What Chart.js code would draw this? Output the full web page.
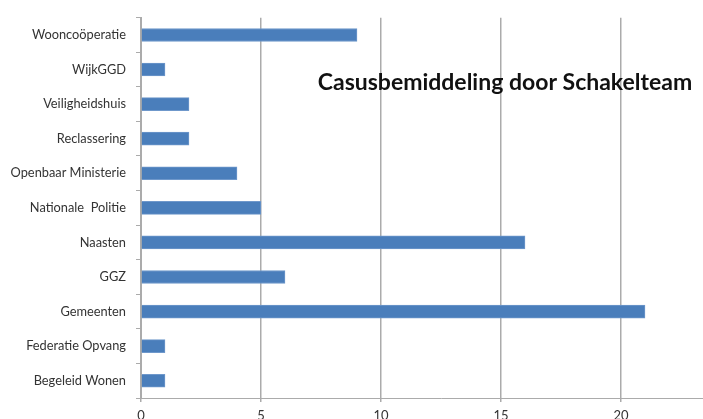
<!DOCTYPE html>
<html>
<head>
<meta charset="utf-8">
<script src="https://cdn.jsdelivr.net/npm/chart.js@4"></script>
<style>
  html, body { margin: 0; padding: 0; background: #fff; overflow: hidden; width: 703px; height: 419px; }
  #wrap { width: 760px; height: 430px; }
</style>
</head>
<body>
<div id="wrap"><canvas id="chart" width="760" height="430"></canvas></div>
<script>
const categories = ['Wooncoöperatie', 'WijkGGD', 'Veiligheidshuis', 'Reclassering', 'Openbaar Ministerie',
    'Nationale  Politie', 'Naasten', 'GGZ', 'Gemeenten', 'Federatie Opvang', 'Begeleid Wonen'];
const casussen = [9, 1, 2, 2, 4, 5, 16, 6, 21, 1, 1];
const xTicks = [0, 5, 10, 15, 20, 25];
const chartTitle = 'Casusbemiddeling door Schakelteam';

// title sits inside the plot area, so draw it by hand
const titlePlugin = {
    id: 'innerTitle',
    afterDraw(chart) {
        const c = chart.ctx;
        c.save();
        c.font = 'bold 23px Lato';
        c.fillStyle = '#111';
        c.textAlign = 'center';
        c.textBaseline = 'middle';
        c.fillText(chartTitle, 505, 83);
        c.restore();
    }
};

const ctx = document.querySelector('#chart').getContext('2d');
const chart = new Chart(ctx, {
    type: 'bar',
    data: {
        labels: categories,
        datasets: [{
            data: casussen,
            backgroundColor: '#4a7ebb',
            borderColor: '#6f98cb',
            borderWidth: 1,
            barThickness: 13
        }]
    },
    options: {
        indexAxis: 'y',
        responsive: false,
        animation: false,
        layout: { padding: { top: 15, right: 19, left: 0, bottom: 0 } },
        scales: {
            x: {
                min: 0,
                max: 25,
                afterBuildTicks: s => { s.ticks = xTicks.map(v => ({ value: v })); },
                afterFit: s => { s.height = 32; },
                grid: { color: '#ababab', lineWidth: 1.5, tickLength: 4 },
                border: { color: '#ababab' },
                ticks: { color: '#333', font: { family: 'Lato', size: 13 }, padding: 6 }
            },
            y: {
                afterFit: s => { s.width = 141; },
                grid: { drawOnChartArea: false, offset: true, color: '#ababab', tickLength: 5 },
                border: { color: '#ababab' },
                ticks: { color: '#333', font: { family: 'Lato', size: 12.8 }, padding: 10 }
            }
        },
        plugins: {
            legend: { display: false },
            tooltip: { enabled: false }
        }
    },
    plugins: [titlePlugin]
});
</script>
</body>
</html>
